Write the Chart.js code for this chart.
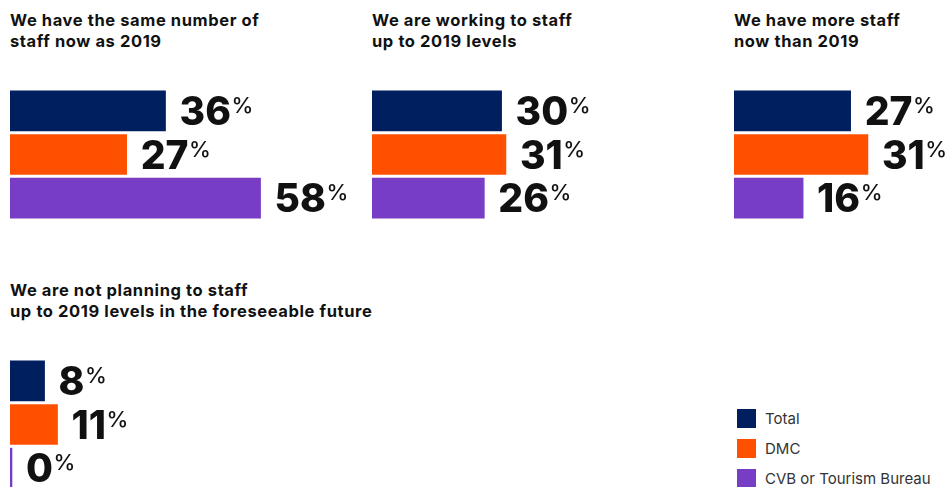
<!DOCTYPE html>
<html>
<head>
<meta charset="utf-8">
<script src="https://cdn.jsdelivr.net/npm/chart.js@4/dist/chart.umd.min.js"></script>
<style>
  html, body { margin: 0; padding: 0; background: #fff; }
  body { width: 949px; height: 487px; overflow: hidden; position: relative; font-family: Inter, "Noto Sans", sans-serif; }
  .panel-title { position: absolute; font-size: 16.5px; font-weight: 700; letter-spacing: 0.6px; line-height: 20.5px; color: #111; white-space: nowrap; }
  .panel-chart { position: absolute; }
  #legend { position: absolute; left: 737px; top: 403.5px; }
  .legend-item { display: flex; align-items: center; height: 30px; font-size: 15px; color: #333; }
  .legend-item span.swatch { width: 19px; height: 19px; margin-right: 9px; flex: none; }
</style>
</head>
<body>
<div id="legend"></div>

<script>
const CATEGORIES = ['Total', 'DMC', 'CVB or Tourism Bureau'];
const COLORS = ['#001f5f', '#ff5000', '#773dc4'];

const SAME_AS_2019 = [36, 27, 58];
const WORKING_TO_2019 = [30, 31, 26];
const MORE_THAN_2019 = [27, 31, 16];
const NOT_PLANNING = [8, 11, 0];

const TITLE_SAME = ['We have the same number of', 'staff now as 2019'];
const TITLE_WORKING = ['We are working to staff', 'up to 2019 levels'];
const TITLE_MORE = ['We have more staff', 'now than 2019'];
const TITLE_NOT_PLANNING = ['We are not planning to staff', 'up to 2019 levels in the foreseeable future'];

// pixels per percentage point, shared by every panel so bars are comparable
const PX_PER_PCT = 4.32;

const panels = [
  { title: TITLE_SAME, values: SAME_AS_2019, left: 10, titleTop: 10, chartTop: 89, width: 346 },
  { title: TITLE_WORKING, values: WORKING_TO_2019, left: 372, titleTop: 10, chartTop: 89, width: 346 },
  { title: TITLE_MORE, values: MORE_THAN_2019, left: 734, titleTop: 10, chartTop: 89, width: 215 },
  { title: TITLE_NOT_PLANNING, values: NOT_PLANNING, left: 10, titleTop: 280, chartTop: 359, width: 346 }
];

// big bold number after each bar with a raised % sign
const valueLabels = {
  id: 'valueLabels',
  afterDatasetsDraw(chart) {
    const ctx = chart.ctx;
    const meta = chart.getDatasetMeta(0);
    const values = chart.data.datasets[0].data;
    ctx.save();
    ctx.fillStyle = '#111';
    ctx.textAlign = 'left';
    ctx.textBaseline = 'alphabetic';
    meta.data.forEach((bar, i) => {
      const x = bar.x + 14;
      const y = bar.y;
      const num = String(values[i]);
      ctx.font = '800 39px Inter';
      ctx.fillText(num, x, y + 14);
      const w = ctx.measureText(num).width;
      ctx.font = '500 22px Inter';
      ctx.fillText('%', x + w + 0.5, y + 2);
    });
    ctx.restore();
  }
};

panels.forEach(p => {
  const title = document.createElement('div');
  title.className = 'panel-title';
  title.style.left = p.left + 'px';
  title.style.top = p.titleTop + 'px';
  title.innerHTML = p.title.join('<br>');
  document.body.appendChild(title);

  const canvas = document.createElement('canvas');
  canvas.className = 'panel-chart';
  canvas.width = p.width;
  canvas.height = 131;
  canvas.style.left = p.left + 'px';
  canvas.style.top = p.chartTop + 'px';
  document.body.appendChild(canvas);

  new Chart(canvas.getContext('2d'), {
    type: 'bar',
    data: {
      labels: CATEGORIES,
      datasets: [{
        data: p.values,
        backgroundColor: COLORS,
        borderWidth: 0,
        barThickness: 40,
        minBarLength: 2
      }]
    },
    options: {
      indexAxis: 'y',
      responsive: false,
      animation: false,
      layout: { padding: 0 },
      scales: {
        x: { display: false, min: 0, max: p.width / PX_PER_PCT },
        y: { display: false }
      },
      plugins: {
        legend: { display: false },
        tooltip: { enabled: false }
      }
    },
    plugins: [valueLabels]
  });
});

// legend
const legend = document.getElementById('legend');
legend.innerHTML = CATEGORIES.map((name, i) => `
  <div class="legend-item"><span class="swatch" style="background:${COLORS[i]}"></span>${name}</div>
`).join('');
</script>
</body>
</html>
